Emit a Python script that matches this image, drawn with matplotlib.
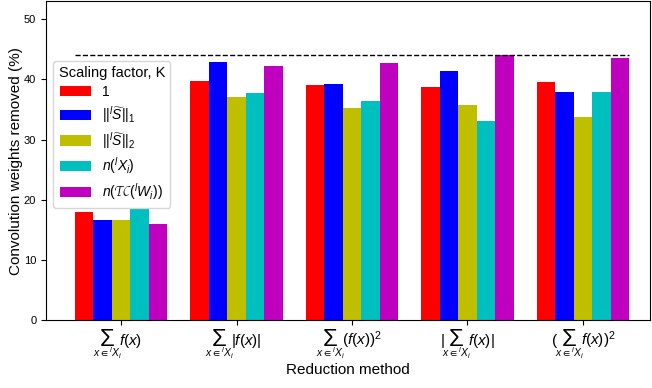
import numpy as np
import matplotlib
matplotlib.use("Agg")
import matplotlib.pyplot as plt
from matplotlib.transforms import blended_transform_factory
from matplotlib.textpath import TextPath
from matplotlib.font_manager import FontProperties

plt.rcParams['font.family'] = ['Liberation Sans', 'DejaVu Sans']
plt.rcParams['mathtext.fontset'] = 'custom'
plt.rcParams['mathtext.rm'] = 'Liberation Sans'
plt.rcParams['mathtext.it'] = 'Liberation Sans:italic'
plt.rcParams['mathtext.bf'] = 'Liberation Sans:bold'
plt.rcParams['mathtext.fallback'] = 'stixsans'

# data
# each reduction method label: (text before the sum, text after the sum)
method_pre = ['', '', '', r'$|$', r'$($']
method_post = [r'$f(x)$', r'$|f(x)|$', r'$(f(x))^2$', r'$f(x)|$', r'$f(x))^2$']
sum_sub = r'$x\in{}^{l}X_i$'
factor_labels = ['1',
                 r'$||^{l}\widetilde{S}||_1$',
                 r'$||^{l}\widetilde{S}||_2$',
                 r'$n(^{l}X_i)$',
                 r'$n(\mathcal{TC}(^{l}W_i))$']
k_one = [18.0, 39.7, 39.0, 38.7, 39.5]
k_l1 = [16.7, 42.9, 39.2, 41.4, 37.9]
k_l2 = [16.7, 37.0, 35.2, 35.7, 33.7]
k_nx = [18.4, 37.7, 36.4, 33.1, 37.9]
k_ntc = [16.0, 42.2, 42.7, 44.0, 43.5]
colors = ['r', 'b', 'y', 'c', 'm']

series = [k_one, k_l1, k_l2, k_nx, k_ntc]

fig = plt.figure(figsize=(6.52, 3.88), dpi=100)
ax = fig.add_axes([0.0706, 0.175, 0.926, 0.822])

x = np.arange(len(method_post))
w = 0.16
for i, (vals, lab, c) in enumerate(zip(series, factor_labels, colors)):
    ax.bar(x + (i - 2) * w, vals, w, color=c, label=lab)

best = max(max(s) for s in series)
ax.hlines(best, -0.4, 4.4, colors='k', linestyles='--', linewidth=1)

ax.set_xlim(-0.65, 4.58)
ax.set_ylim(0, 53)
ax.set_xticks(x)
ax.set_xticklabels([''] * len(x))
ax.tick_params(axis='y', labelsize=8)
ax.set_xlabel('Reduction method', fontsize=11)
ax.xaxis.set_label_coords(0.5, -0.135)
ax.set_ylabel('Convolution weights removed (%)', fontsize=11, labelpad=1)

ax.legend(title='Scaling factor, K', loc='upper left', bbox_to_anchor=(0.0, 0.835),
          fontsize=10, title_fontsize=10.5, handlelength=2.2, handleheight=0.75,
          labelspacing=0.35)

# big sum sign: pick the size so its ink is about 16 px tall
sig = '\u03a3'
ink = TextPath((0, 0), sig, size=1, prop=FontProperties(family='Liberation Sans')).get_extents()
sig_fs = 16.5 / ink.height * 0.72

# x tick labels built from pieces so the sum sign can be large
trans = blended_transform_factory(ax.transData, ax.transAxes)
groups = []
for xi, pre, post in zip(x, method_pre, method_post):
    kw = dict(xy=(xi, 0), xycoords=trans, textcoords='offset pixels',
              va='baseline', ha='left', annotation_clip=False)
    t_pre = ax.annotate(pre, xytext=(0, -25), fontsize=11, **kw)
    t_sig = ax.annotate(sig, xytext=(0, -26), fontsize=sig_fs, **kw)
    t_post = ax.annotate(post, xytext=(0, -25), fontsize=11, **kw)
    t_sub = ax.annotate(sum_sub, xytext=(0, -37), fontsize=7.5, **kw)
    groups.append((t_pre, t_sig, t_post, t_sub))

fig.canvas.draw()
r = fig.canvas.get_renderer()
gap = 4
for t_pre, t_sig, t_post, t_sub in groups:
    wp = t_pre.get_window_extent(r).width if t_pre.get_text() else 0
    ws = t_sig.get_window_extent(r).width
    wq = t_post.get_window_extent(r).width
    wsub = t_sub.get_window_extent(r).width
    total = wp + (gap if wp else 0) + ws + gap + wq
    start = -total / 2
    t_pre.xyann = (start, -25)
    sx = start + wp + (gap if wp else 0)
    t_sig.xyann = (sx, -26)
    t_post.xyann = (sx + ws + gap, -25)
    t_sub.xyann = (sx + ws / 2 - wsub / 2, -37)

fig.savefig('out.png', dpi=100)
